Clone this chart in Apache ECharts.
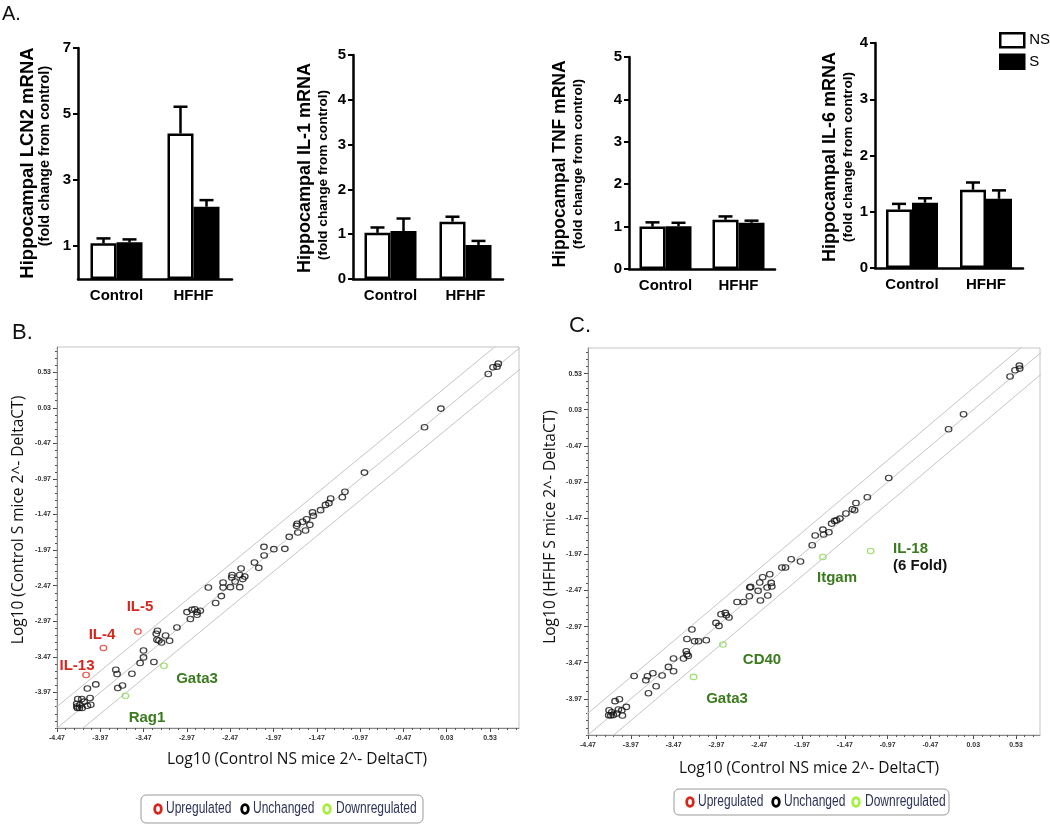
<!DOCTYPE html>
<html><head><meta charset="utf-8">
<script src="https://cdn.jsdelivr.net/npm/echarts@6/dist/echarts.min.js"></script>
<style>html,body{margin:0;padding:0;background:#fff}#c{width:1050px;height:824px}</style>
</head><body><div id="c"></div>
<script>
// ---------- Panel A data ----------
const categories = ['Control', 'HFHF'];
const lcn2NS = [1.08, 4.41], lcn2NSerr = [1.23, 5.22];
const lcn2S  = [1.11, 2.19], lcn2Serr  = [1.20, 2.39];
const il1NS  = [1.03, 1.28], il1NSerr  = [1.15, 1.39];
const il1S   = [1.07, 0.76], il1Serr   = [1.35, 0.85];
const tnfNS  = [1.00, 1.16], tnfNSerr  = [1.10, 1.24];
const tnfS   = [1.01, 1.09], tnfSerr   = [1.09, 1.14];
const il6NS  = [1.04, 1.39], il6NSerr  = [1.14, 1.52];
const il6S   = [1.16, 1.23], il6Serr   = [1.24, 1.38];
const lcn2Ticks = [1, 3, 5, 7];

// ---------- Panel B data (x: Control NS, y: Control S) ----------
const bUnchanged = [
 [0.51,0.506],[0.565,0.60],[0.611,0.609],[0.626,0.651],
 [-0.037,0.019],[-0.226,-0.242],[-0.92,-0.88],
 [-1.145,-1.15],[-1.175,-1.226],[-1.31,-1.245],[-1.33,-1.31],[-1.37,-1.334],[-1.426,-1.408],
 [-1.519,-1.44],[-1.51,-1.488],[-1.55,-1.615],[-1.588,-1.535],[-1.634,-1.572],[-1.60,-1.695],
 [-1.696,-1.60],[-1.704,-1.629],[-1.689,-1.723],[-1.788,-1.783],[-1.839,-1.952],[-1.966,-1.956],
 [-2.08,-1.924],[-2.078,-2.046],[-2.19,-2.144],[-2.14,-2.219],[-2.344,-2.228],[-2.448,-2.32],
 [-2.452,-2.355],[-2.36,-2.32],[-2.302,-2.34],[-2.325,-2.377],[-2.413,-2.411],[-2.552,-2.425],
 [-2.552,-2.495],[-2.468,-2.49],[-2.36,-2.49],[-2.722,-2.495],[-2.572,-2.616],[-2.638,-2.714],
 [-2.969,-2.841],[-2.911,-2.808],[-2.88,-2.80],[-2.853,-2.841],[-2.815,-2.823],[-2.853,-2.879],
 [-2.93,-2.939],[-3.085,-3.057],[-3.31,-3.103],[-3.324,-3.146],[-3.316,-3.23],[-3.293,-3.24],
 [-3.263,-3.268],[-3.216,-3.17],[-3.17,-3.244],[-3.471,-3.38],[-3.471,-3.478],[-3.51,-3.557],
 [-3.351,-3.543],[-3.605,-3.707],[-3.791,-3.651],[-3.776,-3.712],[-3.768,-3.908],[-3.714,-3.872],
 [-4.022,-3.857],[-4.119,-3.914],[-4.23,-4.063],[-4.184,-4.063],[-4.157,-4.10],[-4.088,-4.049],
 [-4.242,-4.13],[-4.204,-4.143],[-4.119,-4.157],[-4.08,-4.143],[-4.235,-4.189],[-4.212,-4.189],
 [-4.18,-4.189],[-4.24,-4.167]
];
const bUp   = [[-3.536,-3.113],[-3.934,-3.346],[-4.134,-3.725]];   // IL-5, IL-4, IL-13
const bDown = [[-3.235,-3.595],[-3.68,-4.016]];                     // Gata3, Rag1

// ---------- Panel C data (x: Control NS, y: HFHF S) ----------
const cUnchanged = [
 [0.46,0.49],[0.518,0.576],[0.573,0.599],[0.569,0.64],
 [-0.083,-0.033],[-0.258,-0.24],[-0.957,-0.914],
 [-1.207,-1.181],[-1.34,-1.26],[-1.382,-1.347],[-1.355,-1.361],[-1.457,-1.406],[-1.527,-1.476],
 [-1.566,-1.499],[-1.589,-1.508],[-1.624,-1.545],[-1.656,-1.665],[-1.726,-1.628],[-1.718,-1.697],
 [-1.816,-1.711],[-1.851,-1.845],[-1.988,-2.07],[-2.097,-2.039],[-2.163,-2.153],[-2.205,-2.153],
 [-2.347,-2.246],[-2.43,-2.288],[-2.464,-2.36],[-2.33,-2.366],[-2.57,-2.421],[-2.58,-2.43],
 [-2.483,-2.476],[-2.378,-2.43],[-2.323,-2.416],[-2.585,-2.55],[-2.37,-2.54],[-2.456,-2.61],
 [-2.652,-2.629],[-2.729,-2.629],
 [-2.916,-2.799],[-2.866,-2.781],[-2.854,-2.813],[-2.823,-2.845],[-2.975,-2.919],[-2.94,-2.961],
 [-3.256,-3.011],[-3.314,-3.141],[-3.225,-3.173],[-3.179,-3.173],[-3.088,-3.159],[-3.322,-3.311],
 [-3.314,-3.353],[-3.299,-3.376],[-3.354,-3.412],[-3.471,-3.412],[-3.53,-3.528],[-3.471,-3.588],
 [-3.604,-3.647],[-3.712,-3.615],[-3.775,-3.657],[-3.794,-3.712],[-3.931,-3.653],[-3.674,-3.795],
 [-3.764,-3.892],[-4.022,-4.081],[-4.103,-3.975],[-4.154,-4.002],[-4.075,-4.127],[-4.115,-4.117],
 [-4.068,-4.2],[-4.224,-4.127],[-4.193,-4.155],[-4.228,-4.196],[-4.204,-4.2],[-4.174,-4.192],[-4.134,-4.172]
];
const cUp   = [];
const cDown = [[-1.168,-1.924],[-1.726,-2.007],[-2.893,-3.218],[-3.237,-3.666]]; // IL-18, Itgam, CD40, Gata3

// ---------- scatter tick labels ----------
const scatterTicks = [-4.47,-3.97,-3.47,-2.97,-2.47,-1.97,-1.47,-0.97,-0.47,0.03,0.53];
const scatterYTicks = scatterTicks.slice(1);
const axisMin = -4.47;
const bXMax = 0.865, bYMax = 0.885, cXMax = 0.81, cYMax = 0.884;
const FOLD = 2;
const legendNames = ['Upregulated', 'Unchanged', 'Downregulated'];

// ---------- build ----------
const AF = '"Liberation Sans", Arial, sans-serif';
const BW = 26;
const barPanels = [
  {grid:{left:78, top:48, width:154, height:231}, max:7, ns:lcn2NS, nsE:lcn2NSerr, s:lcn2S, sE:lcn2Serr, custom:lcn2Ticks},
  {grid:{left:353, top:55, width:150, height:224}, max:5, ns:il1NS, nsE:il1NSerr, s:il1S, sE:il1Serr},
  {grid:{left:629, top:57, width:146, height:212}, max:5, ns:tnfNS, nsE:tnfNSerr, s:tnfS, sE:tnfSerr},
  {grid:{left:875, top:43, width:148, height:225}, max:4, ns:il6NS, nsE:il6NSerr, s:il6S, sE:il6Serr}
];

const grid = [], xAxis = [], yAxis = [], series = [];

function errSeries(gi, vals, errs, side){
  return {type:'custom', xAxisIndex:gi, yAxisIndex:gi, z:5, silent:true,
    data: vals.map((v,i)=>[i, v, errs[i]]),
    encode:{x:0, y:[1,2]},
    renderItem(params, api){
      const top = api.coord([api.value(0), api.value(2)]);
      const base = api.coord([api.value(0), api.value(1)]);
      const x = top[0] + side*BW/2;
      return {type:'group', children:[
        {type:'line', shape:{x1:x,y1:base[1],x2:x,y2:top[1]}, style:{stroke:'#000', lineWidth:2.5}},
        {type:'line', shape:{x1:x-7,y1:top[1],x2:x+7,y2:top[1]}, style:{stroke:'#000', lineWidth:2.5}}
      ]};
    }};
}

barPanels.forEach((p, gi) => {
  grid.push(p.grid);
  xAxis.push({type:'category', gridIndex:gi, data:categories,
    axisLine:{lineStyle:{color:'#000', width:2.5}}, axisTick:{show:false},
    axisLabel:{fontFamily:AF, fontWeight:'bold', fontSize:15, color:'#000', margin:9}});
  const ya = {type:'value', gridIndex:gi, min:0, max:p.max, interval:1,
    axisLine:{show:true, lineStyle:{color:'#000', width:2.5}},
    axisTick:{show:true, length:5, lineStyle:{color:'#000', width:2}},
    axisLabel:{fontFamily:AF, fontWeight:'bold', fontSize:15, color:'#000', margin:7},
    splitLine:{show:false}};
  if (p.custom){ ya.axisTick.customValues = p.custom; ya.axisLabel.customValues = p.custom; }
  yAxis.push(ya);
  series.push({name:'NS', type:'bar', xAxisIndex:gi, yAxisIndex:gi, data:p.ns, barWidth:BW, barGap:'0%',
    itemStyle:{color:'#fff', borderColor:'#000', borderWidth:2.5}, silent:true});
  series.push({name:'S', type:'bar', xAxisIndex:gi, yAxisIndex:gi, data:p.s, barWidth:BW, barGap:'0%',
    itemStyle:{color:'#000', borderColor:'#000', borderWidth:2.5}, silent:true});
  series.push(errSeries(gi, p.ns, p.nsE, -1));
  series.push(errSeries(gi, p.s, p.sE, 1));
});

function minorTicks(max){ const a=[]; for(let i=0; axisMin+i*0.1 <= max+1e-9; i++) a.push(+(axisMin+i*0.1).toFixed(2)); return a; }

const MARK_COLORS = {Upregulated:'#e0301e', Unchanged:'#111', Downregulated:'#86d84a'};
function scatterPanel(gRect, xMax, yMax, up, unch, down){
  const gi = grid.length;
  grid.push(Object.assign({show:true, borderColor:'#c4c4c4', borderWidth:1, backgroundColor:'#fff'}, gRect));
  const lab = {fontFamily:AF, fontSize:7, color:'#333', fontWeight:'bold', formatter:v=>(+v).toFixed(2)};
  const xi = xAxis.length;
  xAxis.push({type:'value', gridIndex:gi, min:axisMin, max:xMax, position:'bottom',
    axisLine:{show:true, onZero:false, lineStyle:{color:'#888', width:1}},
    axisTick:{show:true, length:4, customValues:scatterTicks, lineStyle:{color:'#444'}},
    axisLabel:Object.assign({customValues:scatterTicks, margin:7}, lab), splitLine:{show:false}});
  xAxis.push({type:'value', gridIndex:gi, min:axisMin, max:xMax, position:'bottom',
    axisLine:{show:false, onZero:false},
    axisTick:{show:true, length:2, customValues:minorTicks(xMax), lineStyle:{color:'#555'}},
    axisLabel:{show:false}, splitLine:{show:false}});
  const yi = yAxis.length;
  yAxis.push({type:'value', gridIndex:gi, min:axisMin, max:yMax, position:'left',
    axisLine:{show:true, onZero:false, lineStyle:{color:'#888', width:1}},
    axisTick:{show:true, length:4, customValues:scatterYTicks, lineStyle:{color:'#444'}},
    axisLabel:Object.assign({customValues:scatterYTicks, margin:6}, lab), splitLine:{show:false}});
  yAxis.push({type:'value', gridIndex:gi, min:axisMin, max:yMax, position:'left',
    axisLine:{show:false, onZero:false},
    axisTick:{show:true, length:2, customValues:minorTicks(yMax), lineStyle:{color:'#555'}},
    axisLabel:{show:false}, splitLine:{show:false}});
  const off = Math.log10(FOLD);
  [0, off, -off].forEach(o => {
    series.push({type:'line', xAxisIndex:xi, yAxisIndex:yi, symbol:'none', silent:true, clip:true, z:1,
      lineStyle:{color:'#c4c4c4', width:1},
      data:[[axisMin-1, axisMin-1+o],[xMax+1, xMax+1+o]]});
  });
  const sty = c => ({color:'rgba(255,255,255,0)', borderColor:c, borderWidth:1.2});
  [[legendNames[0], up], [legendNames[1], unch], [legendNames[2], down]].forEach(([nm, d]) => {
    series.push({name:nm, type:'scatter', xAxisIndex:xi, yAxisIndex:yi, data:d, symbol:'circle',
      symbolSize:[6.5,5.5], itemStyle:sty(MARK_COLORS[nm]), z:3, silent:true});
  });
}
scatterPanel({left:57, top:347, width:462, height:381}, bXMax, bYMax, bUp, bUnchanged, bDown);
scatterPanel({left:588, top:348, width:452, height:387}, cXMax, cYMax, cUp, cUnchanged, cDown);

// legend for NS / S
const legend = [
  {left:994, top:27, orient:'vertical', itemGap:5, itemWidth:24, itemHeight:14, selectedMode:false,
   textStyle:{fontFamily:AF, fontSize:15, color:'#000'},
   data:[{name:'NS', icon:'rect', itemStyle:{color:'#fff', borderColor:'#000', borderWidth:2.5}},
         {name:'S', icon:'rect', itemStyle:{color:'#000', borderColor:'#000', borderWidth:2.5}}]}
];

function txt(x, y, text, size, weight, family, fill, align, rot){
  return {type:'text', x, y, rotation:rot||0, silent:true,
    style:{text, fontSize:size, fontWeight:weight, fontFamily:family, fill:fill||'#000', align:align||'center', verticalAlign:'middle'}};
}
// condensed-looking legend boxes for panels B and C
const LEG_COLORS = {Upregulated:'#d9261c', Unchanged:'#000', Downregulated:'#a6ef3c'};
function scatterLegendGraphic(box, markerX, textX, cy){
  const els = [{type:'rect', shape:{x:box[0], y:box[1], width:box[2], height:box[3], r:5}, silent:true,
    style:{fill:'#fff', stroke:'#9a9a9a', lineWidth:1}}];
  legendNames.forEach((nm, i) => {
    els.push({type:'ellipse', shape:{cx:markerX[i], cy:cy, rx:3.3, ry:4.3}, silent:true,
      style:{fill:'#fff', stroke:LEG_COLORS[nm], lineWidth:2.8}});
    els.push({type:'text', x:textX[i], y:cy, scaleX:0.75, silent:true,
      style:{text:nm, fontSize:16, fontFamily:AF, fill:'#2c3458', align:'left', verticalAlign:'middle'}});
  });
  return els;
}

const R = Math.PI/2;
const OS = '"Open Sans", sans-serif';
const graphic = [
  txt(2, 14, 'A.', 20, 'normal', AF, '#111', 'left'),
  txt(12, 333, 'B.', 22, 'normal', AF, '#111', 'left'),
  txt(569, 326, 'C.', 22, 'normal', AF, '#111', 'left'),
  txt(28, 163, 'Hippocampal LCN2 mRNA', 18.5, 'bold', AF, '#000', 'center', R),
  txt(45, 156, '(fold change from control)', 14.5, 'bold', AF, '#000', 'center', R),
  txt(305, 168, 'Hippocampal IL-1 mRNA', 18, 'bold', AF, '#000', 'center', R),
  txt(323, 175, '(fold change from control)', 13.7, 'bold', AF, '#000', 'center', R),
  txt(560, 164, 'Hippocampal TNF mRNA', 17.5, 'bold', AF, '#000', 'center', R),
  txt(578, 164, '(fold change from control)', 13.7, 'bold', AF, '#000', 'center', R),
  txt(830, 157, 'Hippocampal IL-6 mRNA', 18, 'bold', AF, '#000', 'center', R),
  txt(848, 157, '(fold change from control)', 13.7, 'bold', AF, '#000', 'center', R),
  // scatter axis titles
  txt(297, 760, 'Log10 (Control NS mice 2^- DeltaCT)', 15.5, 'normal', OS, '#111'),
  txt(19, 520, 'Log10 (Control S mice 2^- DeltaCT)', 15.5, 'normal', OS, '#111', 'center', R),
  txt(809, 769, 'Log10 (Control NS mice 2^- DeltaCT)', 15.5, 'normal', OS, '#111'),
  txt(551, 527, 'Log10 (HFHF S mice 2^- DeltaCT)', 15.5, 'normal', OS, '#111', 'center', R),
  // point annotations
  txt(140, 607, 'IL-5', 15, 'bold', AF, '#d8261e'),
  txt(102, 635, 'IL-4', 15, 'bold', AF, '#d8261e'),
  txt(77, 666, 'IL-13', 15, 'bold', AF, '#d8261e'),
  txt(197, 679, 'Gata3', 15, 'bold', AF, '#3b7a1e'),
  txt(147, 718, 'Rag1', 15, 'bold', AF, '#3b7a1e'),
  txt(893, 549, 'IL-18', 15, 'bold', AF, '#3b7a1e', 'left'),
  txt(893, 566, '(6 Fold)', 15, 'bold', AF, '#111', 'left'),
  txt(837, 578, 'Itgam', 15, 'bold', AF, '#3b7a1e'),
  txt(762, 660, 'CD40', 15, 'bold', AF, '#3b7a1e'),
  txt(727, 699, 'Gata3', 15, 'bold', AF, '#3b7a1e')
].concat(
  scatterLegendGraphic([141, 795, 282, 28], [158, 245, 327], [166, 253, 336], 809),
  scatterLegendGraphic([674, 789, 275, 26], [690, 776, 856], [698, 784, 865], 802)
);

const chart = echarts.init(document.getElementById('c'), null, {renderer:'canvas'});
chart.setOption({animation:false, backgroundColor:'#fff', grid, xAxis, yAxis, series, legend, graphic});
</script></body></html>
